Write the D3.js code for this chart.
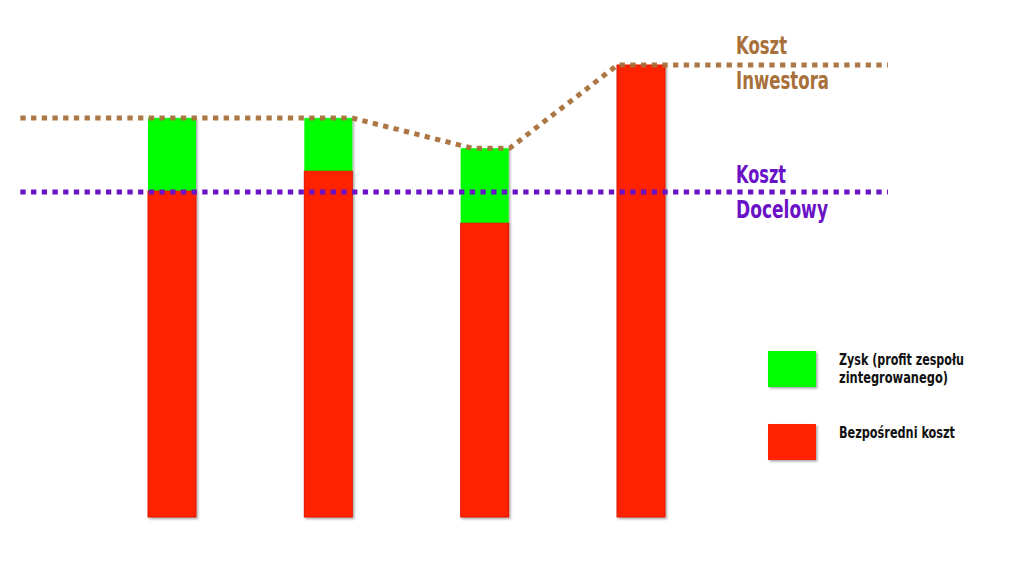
<!DOCTYPE html>
<html>
<head>
<meta charset="utf-8">
<script src="https://cdn.jsdelivr.net/npm/d3@7"></script>
<style>
  html, body { margin: 0; padding: 0; background: #fff; }
  svg { display: block; }
  text { font-family: "DejaVu Sans Condensed", "DejaVu Sans", sans-serif; font-stretch: condensed; font-weight: bold; }
</style>
</head>
<body>
<svg id="chart" width="1024" height="576"></svg>
<script>
// ---- data ----
const categories = ["A", "B", "C", "D"];
const directCost = [72.1, 76.5, 65.0, 100];     // Bezpośredni koszt (red)
const profit     = [16.2, 11.8, 16.6, 0];       // Zysk (green)
const targetCost = 71.9;                        // Koszt Docelowy
// Investor cost line (x in category-index units)
const investorX = [-0.97, 1.15, 1.92, 2.16, 2.85, 4.58];
const investorY = [88.3, 88.3, 81.6, 81.6, 100, 100];
const targetX   = [-0.97, 4.58];
const legendLabels = [["Zysk (profit zespołu", "zintegrowanego)"], ["Bezpośredni koszt"]];

// ---- layout ----
const svg = d3.select("#chart");
const x = d3.scaleLinear().domain([0, 3]).range([172, 641]);
const y = d3.scaleLinear().domain([0, 100]).range([517, 65]);
const barW = (x(1) - x(0)) * 0.307;

const RED = "#ff2200", GREEN = "#00ff00", BROWN = "#a8703a", PURPLE = "#6a12c6";

const defs = svg.append("defs");
const f = defs.append("filter").attr("id", "sh").attr("x", "-20%").attr("y", "-20%").attr("width", "140%").attr("height", "140%");
f.append("feDropShadow").attr("dx", 1.5).attr("dy", 1.5).attr("stdDeviation", 1).attr("flood-color", "#000").attr("flood-opacity", 0.35);

const data = categories.map((c, i) => ({ c, i, red: directCost[i], green: profit[i] }));

const bars = svg.append("g");
bars.selectAll("rect.g").data(data.filter(d => d.green > 0)).join("rect")
  .attr("class", "g")
  .attr("x", d => x(d.i) - barW / 2)
  .attr("width", barW)
  .attr("y", d => y(d.red + d.green))
  .attr("height", d => y(d.red) - y(d.red + d.green))
  .attr("fill", GREEN)
  .attr("filter", "url(#sh)");
bars.selectAll("rect.r").data(data).join("rect")
  .attr("class", "r")
  .attr("x", d => x(d.i) - barW / 2)
  .attr("width", barW)
  .attr("y", d => y(d.red))
  .attr("height", d => y(0) - y(d.red))
  .attr("fill", RED)
  .attr("stroke", "#e01a00")
  .attr("stroke-width", 1)
  .attr("filter", "url(#sh)");

const line = d3.line().x(d => x(d[0])).y(d => y(d[1]));
svg.append("path")
  .datum(investorX.map((v, i) => [v, investorY[i]]))
  .attr("d", line)
  .attr("fill", "none")
  .attr("stroke", BROWN)
  .attr("stroke-width", 5)
  .attr("stroke-dasharray", "5.3 5.4")
  .attr("opacity", 0.95);

svg.append("path")
  .datum(targetX.map(v => [v, targetCost]))
  .attr("d", line)
  .attr("fill", "none")
  .attr("stroke", PURPLE)
  .attr("stroke-width", 5)
  .attr("stroke-dasharray", "5.3 5.4");

function fitText(sel, w) {
  sel.attr("textLength", w).attr("lengthAdjust", "spacingAndGlyphs");
}

const lab = svg.append("g").attr("font-size", 24);
[["Koszt", 54, BROWN, 51], ["Inwestora", 89, BROWN, 93], ["Koszt", 183, PURPLE, 50], ["Docelowy", 218, PURPLE, 92]]
  .forEach(([s, yy, col, w]) => {
    lab.append("text").attr("x", 736).attr("y", yy).attr("fill", col).text(s).call(fitText, w);
  });

const legend = svg.append("g");
const legColors = [GREEN, RED];
const legY = [351, 424];
const legW = [[125, 109], [116]];
legColors.forEach((col, i) => {
  legend.append("rect").attr("x", 768).attr("y", legY[i]).attr("width", 48).attr("height", 36)
    .attr("fill", col).attr("filter", "url(#sh)");
  legendLabels[i].forEach((s, k) =>
    legend.append("text").attr("x", 839).attr("y", legY[i] + 14 + k * 18)
      .attr("font-size", 16).attr("fill", "#111").text(s).call(fitText, legW[i][k]));
});
</script>
</body>
</html>
